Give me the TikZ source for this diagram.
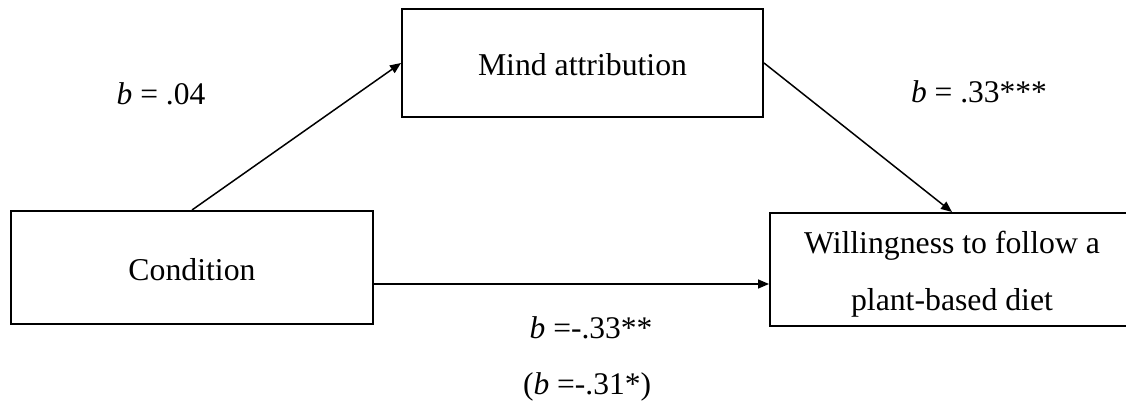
\documentclass[tikz,border=0pt]{standalone}
\usepackage{fontspec}
\setmainfont{Liberation Serif}
\usetikzlibrary{arrows.meta}
\tikzset{
  box/.style={draw=black, line width=2pt, rectangle, inner sep=0pt, align=center,
    font=\fontsize{31.75}{57}\selectfont},
  txt/.style={inner sep=0pt, align=center, font=\fontsize{31.75}{57}\selectfont},
  conn/.style={line width=1.5pt, -{Triangle[length=11pt,width=9pt]}},
  lbl/.style={anchor=base, inner sep=0pt, font=\fontsize{31.5}{38}\selectfont}
}
\begin{document}
\begin{tikzpicture}[x=1pt,y=-1pt]
\useasboundingbox (0,0) rectangle (1126,403);
\node[box, minimum width=362pt, minimum height=113pt] (cond) at (192,267.5) {};
\node[txt] (condtxt) at (192,270) {Condition};
\node[box, minimum width=361pt, minimum height=108pt] (mind) at (582.5,63) {};
\node[txt] (mindtxt) at (582.5,65) {Mind attribution};
\node[box, minimum width=364pt, minimum height=113pt] (will) at (952,269.5) {};
\node[txt] (willtxt) at (952,274) {Willingness to follow a\\plant-based diet};
\coordinate (h) at (0,284);
\draw[conn] (cond.north) -- (mind.west);
\draw[conn] (mind.east) -- (will.north);
\draw[conn] (cond.east |- h) -- (will.west |- h);
\node[lbl] (la) at (161,105) {\textit{b} = .04};
\node[lbl] (lb) at (979,103) {\textit{b} = .33***};
\node[lbl] (lc) at (591,338) {\textit{b} =-.33**};
\node[lbl] (ld) at (587,394) {(\textit{b} =-.31*)};
\end{tikzpicture}
\end{document}
